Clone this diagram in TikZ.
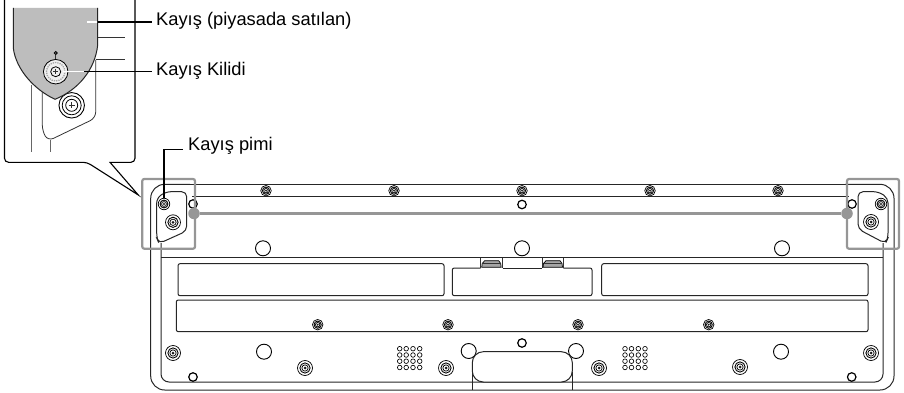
\documentclass[tikz,border=0pt]{standalone}
\usepackage{fontspec}
\setmainfont{Liberation Sans}
\definecolor{hilite}{HTML}{969696}
\definecolor{strapgray}{HTML}{BDBDBD}
\tikzstyle{line} = [draw, line width=1pt, black!85]
\tikzstyle{thinline} = [draw, line width=0.8pt, black!80]
\tikzstyle{label} = [inner sep=0pt, anchor=west, font=\fontsize{18.3}{20}\selectfont]
\tikzstyle{leader} = [draw, line width=1.1pt, black]
\tikzstyle{hole} = [circle, draw, fill=white, line width=0.9pt, minimum size=15pt, inner sep=0pt]
\tikzstyle{ring} = [circle, draw, fill=white, line width=1.2pt, minimum size=8.5pt, inner sep=0pt]
\tikzstyle{grille} = [circle, draw, line width=0.65pt, minimum size=4.6pt, inner sep=0pt]
\tikzstyle{hilitebox} = [draw=hilite, line width=2.2pt, rounded corners=2pt]
\tikzstyle{dot} = [circle, fill=hilite, minimum size=11.5pt, inner sep=0pt]
% screw: name, centre, outer size
\newcommand{\screw}[3]{%
  \node [circle, draw, fill=white, line width=0.7pt, minimum size=#3pt, inner sep=0pt] (#1) at (#2) {};
  \node [circle, draw, line width=0.9pt, minimum size=0.68*#3pt, inner sep=0pt] at (#2) {};
  \node [circle, draw, line width=0.7pt, minimum size=0.42*#3pt, inner sep=0pt] at (#2) {};
  \node [circle, fill=black!90, minimum size=0.2*#3pt, inner sep=0pt] at (#2) {};
}
\begin{document}
\begin{tikzpicture}[x=1pt, y=-1pt]
    \useasboundingbox (0,0) rectangle (904,393);
    \clip (0,0) rectangle (904,393);
    % Body
    \path [line, rounded corners=14pt] (190,184.3) -- (150.7,184.3) -- (150.7,390) -- (894,390) -- (894,184.3) -- (845,184.3);
    \path [line] (190,184.3) -- (850,184.3);
    \path [line] (192,196.3) -- (849,196.3);
    \path [line, rounded corners=8pt] (161,243) -- (161,382) -- (883,382) -- (883,243);
    \path [line] (161,257.7) -- (883,257.7);
    % Panels
    \path [line, rounded corners=2pt] (178,263.7) rectangle (444,295.7);
    \path [line, rounded corners=2pt] (601.7,263.7) rectangle (868,295.7);
    \path [line, rounded corners=2pt] (176.3,300) rectangle (868,331.7);
    \path [line, rounded corners=2pt] (480.7,268) -- (452.3,268) -- (452.3,295.7) -- (592,295.7) -- (592,268) -- (563.3,268);
    \path [line] (502.7,268) -- (542,268);
    % Clips
    \foreach \x in {480.7,542}{
        \path [thinline] (\x,257.7) -- (\x,268) (\x+21.5,257.7) -- (\x+21.5,268);
        \path [draw, fill=black!35, line width=0.7pt] (\x+1.5,263.5) -- (\x+4,260.7) -- (\x+18,260.7) -- (\x+20,263.5) -- (\x+20.5,267.3) -- (\x+1,267.3) -- cycle;
        \path [thinline] (\x+1.5,263.5) -- (\x+20,263.5);
    }
    % Holes
    \node [hole] (holeA) at (263,248.3) {};
    \node [hole] (holeB) at (522,248.3) {};
    \node [hole] (holeC) at (782,248.3) {};
    \node [hole] (holeD) at (264,351.7) {};
    \node [hole] (holeE) at (781,351.7) {};
    \node [hole] (holeF) at (468.7,351) {};
    \node [hole] (holeG) at (576,351) {};
    % Handle
    \path [line, fill=white, rounded corners=11pt] (472.3,382) -- (472.3,351.7) -- (572.3,351.7) -- (572.3,382) -- cycle;
    \path [line] (472.3,372) -- (472.3,390) (572.3,372) -- (572.3,390);
    % Rings
    \node [ring] (ringA) at (522,204.5) {};
    \node [ring] (ringB) at (193,204) {};
    \node [ring] (ringC) at (852,204) {};
    \node [ring] (ringD) at (193,377) {};
    \node [ring] (ringE) at (522,343) {};
    \node [ring] (ringF) at (851.7,377) {};
    % Screws
    \foreach \x in {266,394,522,650,778}{ \screw{top\x}{\x,190.7}{10.5} }
    \foreach \x in {317.7,448,578,708.7}{ \screw{mid\x}{\x,324.7}{10.5} }
    \screw{lowA}{173,353}{15}
    \screw{lowB}{305,368}{15}
    \screw{lowC}{446,368}{15}
    \screw{lowD}{599,368}{15}
    \screw{lowE}{740,367}{15}
    \screw{lowF}{871,353}{15}
    % Grilles
    \foreach \x in {399.7,406.2,413,419.7}{
        \foreach \y in {348.7,355,361.2,367.5}{
            \node [grille] (gl\x\y) at (\x,\y) {};
            \node [grille] (gr\x\y) at (\x+225.3,\y) {};
        }
    }
    % Brackets
    \path [line, fill=white, rounded corners=5pt] (166,191.7) -- (186.7,191.7) -- (186.7,231) -- (159,243.5) -- (156.7,238) -- (156.7,198) -- cycle;
    \path [line, fill=white, rounded corners=5pt] (878.5,191.7) -- (858,191.7) -- (858,229) -- (885.5,243.5) -- (888,238) -- (888,198) -- cycle;
    \screw{pinL}{164,204}{11.5}
    \screw{lugL}{173,222.3}{15}
    \screw{pinR}{881,204}{11.5}
    \screw{lugR}{871,222}{15}
    % Highlight
    \path [hilitebox] (142.3,179) rectangle (195,248.7);
    \path [hilitebox] (847,179) rectangle (899,248.7);
    \node [dot] (dotL) at (194,213.5) {};
    \node [dot] (dotR) at (847,213.5) {};
    \path [draw=hilite, line width=2.4pt] (dotL) -- (dotR);
    % Callout
    \path [draw, fill=white, line width=1.1pt, rounded corners=4pt] (4.5,-8) -- (4.5,162.3) -- (87,162.3) [sharp corners] -- (138.3,195) -- (110,162.3) [rounded corners=4pt] -- (135,162.3) -- (135,-8) -- cycle;
    \path [thinline] (98,37.3) -- (125,37.3);
    \path [thinline] (96,59) -- (125,59);
    \path [thinline, rounded corners=6pt] (95.7,60) -- (95.7,118) -- (48,141) -- (42.3,131) -- (42.3,90);
    \path [draw=black!60, line width=0.9pt] (31.7,85) -- (31.7,151.7);
    \path [draw=black!60, line width=0.9pt] (50,140) -- (50,151.7);
    \node [circle, draw, line width=0.9pt, fill=white, minimum size=25.5pt, inner sep=0pt] (zoomscrew) at (71.7,105.3) {};
    \node [circle, draw, line width=0.8pt, minimum size=19pt, inner sep=0pt] at (71.7,105.3) {};
    \node [circle, draw, line width=0.8pt, minimum size=12pt, inner sep=0pt] at (71.7,105.3) {};
    \path [draw, line width=1.2pt, black!80] (68.7,105.3) -- (74.7,105.3) (71.7,102.3) -- (71.7,108.3);
    \path [draw=none, fill=strapgray] (13.3,8) -- (97.7,8) -- (97.7,45) .. controls (95,70) and (78,90) .. (55,99.3) .. controls (35,90) and (16,70) .. (13.3,48) -- cycle;
    \path [line] (13.3,8) -- (13.3,48) .. controls (16,70) and (35,90) .. (55,99.3) .. controls (78,90) and (95,70) .. (97.7,45) -- (97.7,8);
    \node [circle, draw, line width=0.8pt, fill=black!40, minimum size=3pt, inner sep=0pt] (stem) at (55.7,53) {};
    \node [circle, draw, line width=0.8pt, fill=black!6, minimum size=24.5pt, inner sep=0pt] (lock) at (55.7,71.7) {};
    \path [thinline] (stem) -- (lock);
    \node [circle, draw=black!35, densely dotted, line width=1.3pt, minimum size=18.5pt, inner sep=0pt] at (55.7,71.7) {};
    \node [circle, draw, line width=0.8pt, minimum size=10pt, inner sep=0pt] at (55.7,71.7) {};
    \path [draw, line width=1.1pt, black!80] (53.2,71.7) -- (58.2,71.7) (55.7,69.2) -- (55.7,74.2);
    % Labels
    \node [label] (strap) at (156,20.5) {Kayış (piyasada satılan)};
    \node [label] (locklabel) at (156,71) {Kayış Kilidi};
    \node [label] (pinlabel) at (188,146) {Kayış pimi};
    \coordinate (strapend) at (87,22);
    \coordinate (bend) at (164,149.7);
    % Leaders
    \path [leader] (97.7,22) -- ([xshift=-4pt]strap.west |- strapend);
    \path [draw=white, line width=1.1pt] (97.2,22) -- (strapend);
    \path [draw=white, line width=1.4pt] (lock.center) ++(7,0) -- (84,71.7);
    \path [leader] (84,71.7) -- ([xshift=-4pt]locklabel.west |- lock);
    \path [leader] ([xshift=-5.3pt]pinlabel.west |- bend) -- (bend) -- (pinL);
\end{tikzpicture}
\end{document}
